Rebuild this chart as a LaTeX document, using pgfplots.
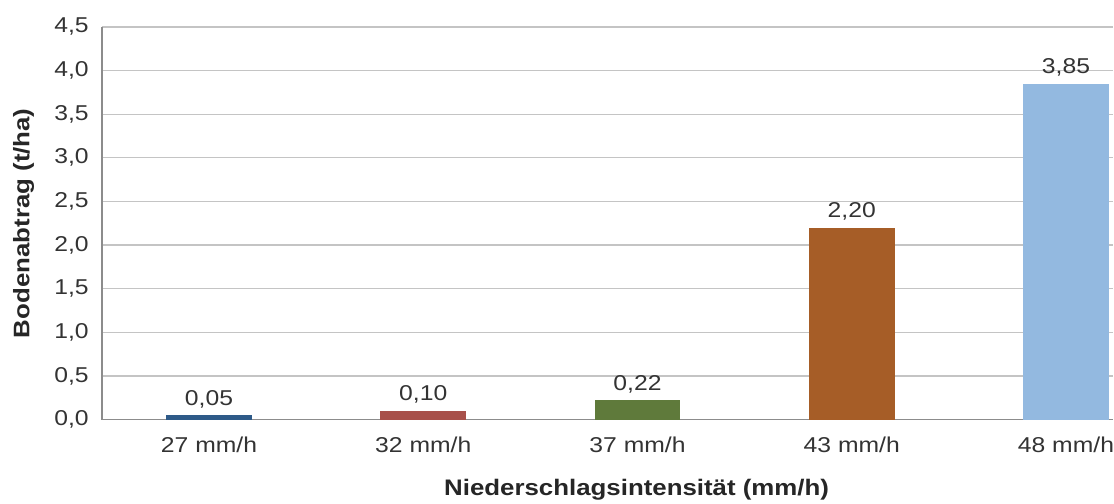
\documentclass[border=0pt]{standalone}
\usepackage{fontspec}
\setmainfont{Liberation Sans}[FakeStretch=1.15]
\usepackage{pgfplots}
\pgfplotsset{compat=1.18}
\definecolor{cA}{HTML}{2E5A88}
\definecolor{cB}{HTML}{A8504A}
\definecolor{cC}{HTML}{5F7A3B}
\definecolor{cD}{HTML}{A65D27}
\definecolor{cE}{HTML}{93B9E0}
\definecolor{gridc}{HTML}{C4C4C4}
\definecolor{axc}{HTML}{8C8C8C}
\definecolor{txt}{HTML}{333333}
\begin{document}
\begin{tikzpicture}
\begin{axis}[
  at={(0pt,0pt)}, anchor=south west,
  scale only axis, width=1012pt, height=393pt,
  xmin=-0.5, xmax=4.218, ymin=0, ymax=4.5,
  axis lines=left,
  axis line style={-, draw=axc, line width=1.8pt},
  ytick={0,0.5,...,4.5},
  ymajorgrids, grid style={draw=gridc, line width=1.3pt},
  xtick={0,1,2,3,4},
  xticklabels={27 mm/h,32 mm/h,37 mm/h,43 mm/h,48 mm/h},
  major tick length=0pt,
  /pgf/number format/assume math mode=true,
  tick label style={font=\fontsize{21.5}{25}\selectfont, text=txt, inner sep=0pt},
  yticklabel style={anchor=east, xshift=-13pt, /pgf/number format/.cd, fixed, fixed zerofill, precision=1, use comma},
  xticklabel style={anchor=base, yshift=-33pt},
  ylabel={\bfseries Bodenabtrag (t/ha)},
  xlabel={\bfseries Niederschlagsintensität (mm/h)},
  label style={font=\fontsize{22.5}{26}\selectfont, text=black!85},
  ylabel style={at={(axis description cs:-0.0775,0.5)}, anchor=center, rotate=0},
  xlabel style={at={(axis description cs:0.529,-0.178)}, anchor=center},
  nodes near coords,
  every node near coord/.append style={font=\fontsize{21.5}{25}\selectfont, text=txt, anchor=base, yshift=10pt, inner sep=0pt, /pgf/number format/.cd, fixed, fixed zerofill, precision=2, use comma},
  clip=false,
]
\addplot[ybar, bar shift=0pt, bar width=86pt, fill=cA, draw=none] coordinates {(0,0.05)};
\addplot[ybar, bar shift=0pt, bar width=86pt, fill=cB, draw=none] coordinates {(1,0.10)};
\addplot[ybar, bar shift=0pt, bar width=86pt, fill=cC, draw=none] coordinates {(2,0.22)};
\addplot[ybar, bar shift=0pt, bar width=86pt, fill=cD, draw=none] coordinates {(3,2.20)};
\addplot[ybar, bar shift=0pt, bar width=86pt, fill=cE, draw=none] coordinates {(4,3.85)};
\end{axis}
\path[use as bounding box] (-102pt,-83pt) rectangle (1012pt,420pt);
\end{tikzpicture}
\end{document}
